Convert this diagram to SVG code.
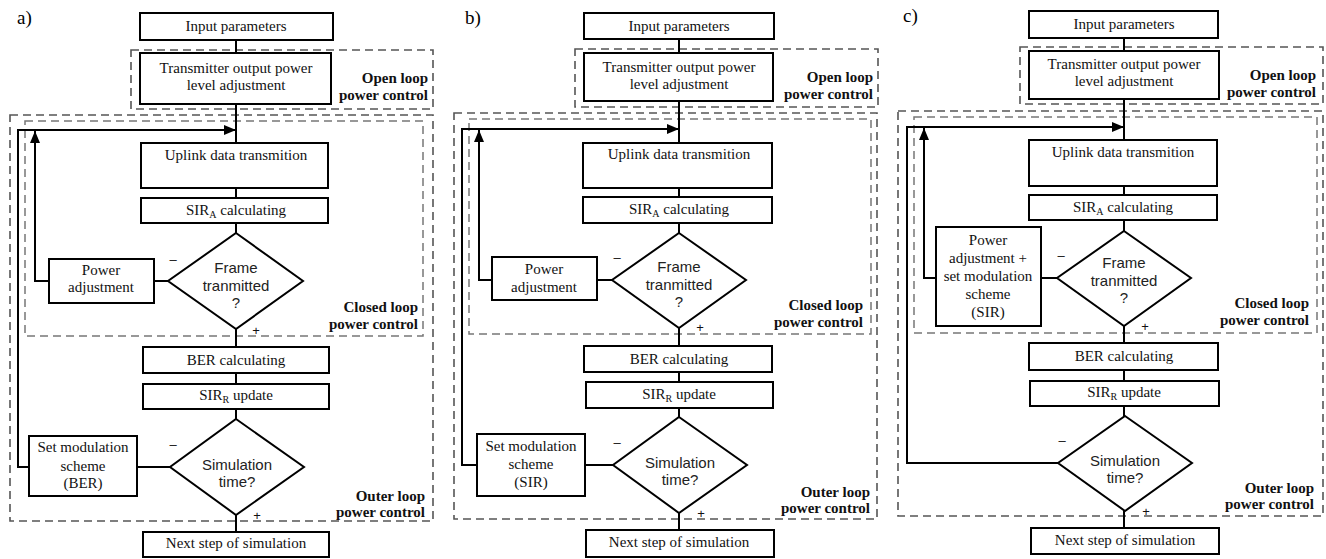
<svg xmlns="http://www.w3.org/2000/svg" width="1326" height="559" viewBox="0 0 1326 559">
<style>
.box{fill:#fff;stroke:#000;stroke-width:2}
.dia{fill:#fff;stroke:#000;stroke-width:2}
.t{font-family:"Liberation Serif","Times New Roman",serif;font-size:15px;fill:#111;text-anchor:middle}
.s{font-family:"Liberation Sans",Arial,sans-serif;font-size:15px;fill:#222;text-anchor:middle}
.lbl{font-family:"Liberation Serif","Times New Roman",serif;font-size:15px;font-weight:bold;fill:#111;text-anchor:end}
.pn{font-family:"Liberation Serif","Times New Roman",serif;font-size:19px;fill:#000}
.sg{font-family:"Liberation Sans",Arial,sans-serif;font-size:13px;fill:#111;text-anchor:middle}
.zone{fill:none;stroke:#555;stroke-width:1.6;stroke-dasharray:8 5}
.zone2{fill:none;stroke:#777;stroke-width:1.5;stroke-dasharray:8 5}
.c{fill:none;stroke:#000;stroke-width:2}
.ca{fill:none;stroke:#000;stroke-width:2;marker-end:url(#ah)}
.sub{font-size:10px}
</style>
<defs>
<marker id="ah" viewBox="0 0 12 10" refX="12" refY="5" markerWidth="12" markerHeight="10" markerUnits="userSpaceOnUse" orient="auto">
<path d="M0,0 L12,5 L0,10 Z" fill="#000"/>
</marker>
</defs>

<!-- zones -->
<g id="zones">
<rect class="zone" x="131" y="50" width="302" height="59"/>
<rect class="zone" x="10" y="115" width="423" height="406"/>
<rect class="zone2" x="25" y="121" width="398" height="215"/>
<rect class="zone" x="575" y="49" width="303" height="58"/>
<rect class="zone" x="454" y="113" width="423" height="406"/>
<rect class="zone2" x="469" y="119" width="402" height="215"/>
<rect class="zone" x="1020" y="47" width="303" height="57"/>
<rect class="zone" x="898" y="111" width="425" height="405"/>
<rect class="zone2" x="914" y="117" width="403" height="216"/>
</g>

<!-- connectors -->
<g id="connectors">
<!-- panel a -->
<path class="c" d="M236,40 V53 M236,104 V143 M236,188 V198 M236,223 V233 M236,329 V347 M236,373 V384 M236,409 V419 M236,515 V532"/>
<path class="c" d="M168,281 H154 M170,467 H137"/>
<path class="ca" d="M49,281 H35 V131"/>
<path class="ca" d="M29,467 H18 V130 H236"/>
<!-- panel b -->
<path class="c" d="M679,39 V53 M679,101 V143 M679,188 V197 M679,223 V233 M679,328 V346 M679,372 V382 M679,408 V417 M679,513 V530"/>
<path class="c" d="M612,280 H597 M613,465 H585"/>
<path class="ca" d="M492,280 H479 V130"/>
<path class="ca" d="M477,465 H462 V129 H679"/>
<!-- panel c -->
<path class="c" d="M1124,38 V51 M1124,99 V140 M1124,186 V195 M1124,220 V231 M1124,326 V343 M1124,370 V381 M1124,406 V416 M1124,511 V528"/>
<path class="c" d="M1057,278 H1041"/>
<path class="ca" d="M936,278 H924 V128"/>
<path class="ca" d="M1058,463 H907 V127 H1124"/>
</g>

<!-- panel a -->
<g id="a-panel"><text class="pn" x="17" y="24">a)</text></g>
<g id="a-input"><rect class="box" x="140" y="13" width="193" height="27"/><text class="t" x="236" y="31">Input parameters</text></g>
<g id="a-tx"><rect class="box" x="140" y="53" width="191" height="51"/><text class="t" x="236" y="73">Transmitter output power</text><text class="t" x="236" y="90">level adjustment</text></g>
<g id="a-open"><text class="lbl" x="428" y="83">Open loop</text><text class="lbl" x="428" y="100">power control</text></g>
<g id="a-uplink"><rect class="box" x="141" y="143" width="187" height="45"/><text class="t" x="236" y="160">Uplink data transmition</text></g>
<g id="a-sira"><rect class="box" x="141" y="198" width="187" height="25"/><text class="t" x="236" y="215">SIR<tspan class="sub" dy="3">A</tspan><tspan dy="-3"> calculating</tspan></text></g>
<g id="a-frame"><polygon class="dia" points="236,233 303,281 236,329 168,281"/><text class="s" x="236" y="273">Frame</text><text class="s" x="236" y="291">tranmitted</text><text class="s" x="236" y="308">?</text></g>
<g id="a-power"><rect class="box" x="49" y="259" width="105" height="44"/><text class="t" x="101" y="275">Power</text><text class="t" x="101" y="292">adjustment</text></g>
<g id="a-signs"><text class="sg" x="173" y="264">–</text><text class="sg" x="256" y="335">+</text><text class="sg" x="173" y="449">–</text><text class="sg" x="257" y="520">+</text></g>
<g id="a-closed"><text class="lbl" x="418" y="312">Closed loop</text><text class="lbl" x="418" y="329">power control</text></g>
<g id="a-ber"><rect class="box" x="143" y="347" width="186" height="26"/><text class="t" x="236" y="365">BER calculating</text></g>
<g id="a-sirr"><rect class="box" x="143" y="384" width="186" height="25"/><text class="t" x="236" y="400">SIR<tspan class="sub" dy="3">R</tspan><tspan dy="-3"> update</tspan></text></g>
<g id="a-sim"><polygon class="dia" points="236,419 304,467 236,515 170,467"/><text class="s" x="237" y="470">Simulation</text><text class="s" x="237" y="487">time?</text></g>
<g id="a-setmod"><rect class="box" x="29" y="436" width="108" height="60"/><text class="t" x="83" y="452">Set modulation</text><text class="t" x="83" y="471">scheme</text><text class="t" x="83" y="488">(BER)</text></g>
<g id="a-outer"><text class="lbl" x="425" y="501">Outer loop</text><text class="lbl" x="425" y="517">power control</text></g>
<g id="a-next"><rect class="box" x="143" y="532" width="186" height="25"/><text class="t" x="236" y="548">Next step of simulation</text></g>

<!-- panel b -->
<g id="b-panel"><text class="pn" x="465" y="24">b)</text></g>
<g id="b-input"><rect class="box" x="584" y="13" width="190" height="26"/><text class="t" x="679" y="31">Input parameters</text></g>
<g id="b-tx"><rect class="box" x="584" y="53" width="189" height="48"/><text class="t" x="679" y="72">Transmitter output power</text><text class="t" x="679" y="89">level adjustment</text></g>
<g id="b-open"><text class="lbl" x="873" y="82">Open loop</text><text class="lbl" x="873" y="99">power control</text></g>
<g id="b-uplink"><rect class="box" x="583" y="143" width="189" height="45"/><text class="t" x="679" y="159">Uplink data transmition</text></g>
<g id="b-sira"><rect class="box" x="583" y="197" width="189" height="26"/><text class="t" x="679" y="214">SIR<tspan class="sub" dy="3">A</tspan><tspan dy="-3"> calculating</tspan></text></g>
<g id="b-frame"><polygon class="dia" points="679,233 746,280 679,328 612,280"/><text class="s" x="679" y="272">Frame</text><text class="s" x="679" y="290">tranmitted</text><text class="s" x="679" y="307">?</text></g>
<g id="b-power"><rect class="box" x="492" y="257" width="105" height="43"/><text class="t" x="544" y="274">Power</text><text class="t" x="544" y="292">adjustment</text></g>
<g id="b-signs"><text class="sg" x="617" y="262">–</text><text class="sg" x="700" y="332">+</text><text class="sg" x="617" y="447">–</text><text class="sg" x="701" y="518">+</text></g>
<g id="b-closed"><text class="lbl" x="863" y="310">Closed loop</text><text class="lbl" x="863" y="327">power control</text></g>
<g id="b-ber"><rect class="box" x="584" y="346" width="188" height="26"/><text class="t" x="679" y="364">BER calculating</text></g>
<g id="b-sirr"><rect class="box" x="586" y="382" width="187" height="26"/><text class="t" x="679" y="399">SIR<tspan class="sub" dy="3">R</tspan><tspan dy="-3"> update</tspan></text></g>
<g id="b-sim"><polygon class="dia" points="679,417 747,465 679,513 613,465"/><text class="s" x="680" y="468">Simulation</text><text class="s" x="680" y="485">time?</text></g>
<g id="b-setmod"><rect class="box" x="477" y="434" width="108" height="62"/><text class="t" x="531" y="451">Set modulation</text><text class="t" x="531" y="469">scheme</text><text class="t" x="531" y="487">(SIR)</text></g>
<g id="b-outer"><text class="lbl" x="870" y="497">Outer loop</text><text class="lbl" x="870" y="513">power control</text></g>
<g id="b-next"><rect class="box" x="586" y="530" width="188" height="27"/><text class="t" x="679" y="547">Next step of simulation</text></g>

<!-- panel c -->
<g id="c-panel"><text class="pn" x="903" y="22">c)</text></g>
<g id="c-input"><rect class="box" x="1029" y="11" width="189" height="27"/><text class="t" x="1124" y="29">Input parameters</text></g>
<g id="c-tx"><rect class="box" x="1029" y="51" width="190" height="48"/><text class="t" x="1124" y="69">Transmitter output power</text><text class="t" x="1124" y="86">level adjustment</text></g>
<g id="c-open"><text class="lbl" x="1316" y="80">Open loop</text><text class="lbl" x="1316" y="97">power control</text></g>
<g id="c-uplink"><rect class="box" x="1029" y="140" width="188" height="46"/><text class="t" x="1123" y="157">Uplink data transmition</text></g>
<g id="c-sira"><rect class="box" x="1029" y="195" width="188" height="25"/><text class="t" x="1123" y="212">SIR<tspan class="sub" dy="3">A</tspan><tspan dy="-3"> calculating</tspan></text></g>
<g id="c-frame"><polygon class="dia" points="1124,231 1191,278 1124,326 1057,278"/><text class="s" x="1124" y="268">Frame</text><text class="s" x="1124" y="286">tranmitted</text><text class="s" x="1124" y="303">?</text></g>
<g id="c-power"><rect class="box" x="936" y="227" width="105" height="99"/><text class="t" x="988" y="245">Power</text><text class="t" x="988" y="263">adjustment +</text><text class="t" x="988" y="281">set modulation</text><text class="t" x="988" y="299">scheme</text><text class="t" x="988" y="317">(SIR)</text></g>
<g id="c-signs"><text class="sg" x="1061" y="260">–</text><text class="sg" x="1145" y="331">+</text><text class="sg" x="1062" y="445">–</text><text class="sg" x="1146" y="516">+</text></g>
<g id="c-closed"><text class="lbl" x="1309" y="308">Closed loop</text><text class="lbl" x="1309" y="325">power control</text></g>
<g id="c-ber"><rect class="box" x="1029" y="343" width="189" height="27"/><text class="t" x="1124" y="361">BER calculating</text></g>
<g id="c-sirr"><rect class="box" x="1030" y="381" width="189" height="25"/><text class="t" x="1124" y="397">SIR<tspan class="sub" dy="3">R</tspan><tspan dy="-3"> update</tspan></text></g>
<g id="c-sim"><polygon class="dia" points="1125,416 1192,463 1125,511 1058,463"/><text class="s" x="1125" y="466">Simulation</text><text class="s" x="1125" y="483">time?</text></g>
<g id="c-outer"><text class="lbl" x="1314" y="493">Outer loop</text><text class="lbl" x="1314" y="509">power control</text></g>
<g id="c-next"><rect class="box" x="1031" y="528" width="188" height="26"/><text class="t" x="1125" y="545">Next step of simulation</text></g>
</svg>
